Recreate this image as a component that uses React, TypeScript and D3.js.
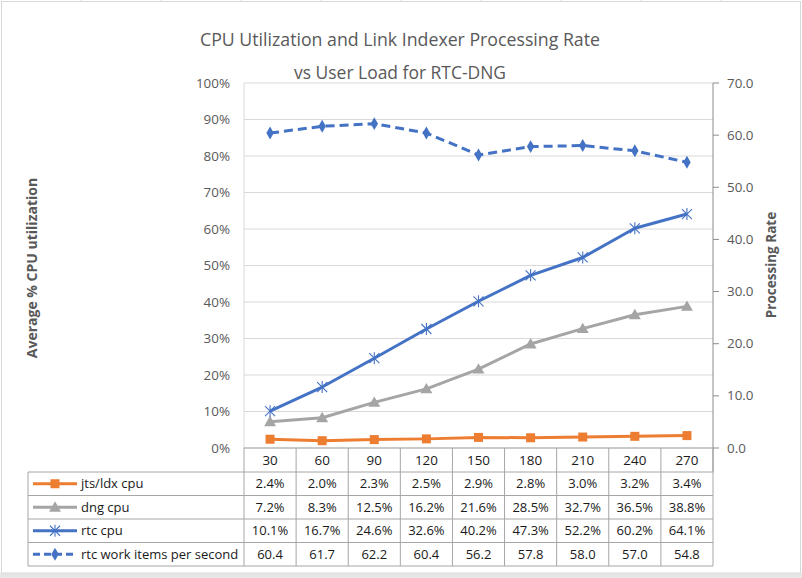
import React from "react";
import * as d3 from "d3";

const categories = [30, 60, 90, 120, 150, 180, 210, 240, 270];
const jtsCpu = [2.4, 2.0, 2.3, 2.5, 2.9, 2.8, 3.0, 3.2, 3.4];
const dngCpu = [7.2, 8.3, 12.5, 16.2, 21.6, 28.5, 32.7, 36.5, 38.8];
const rtcCpu = [10.1, 16.7, 24.6, 32.6, 40.2, 47.3, 52.2, 60.2, 64.1];
const rtcRate = [60.4, 61.7, 62.2, 60.4, 56.2, 57.8, 58.0, 57.0, 54.8];
const leftTicks = [0, 10, 20, 30, 40, 50, 60, 70, 80, 90, 100];
const rightTicks = [0, 10, 20, 30, 40, 50, 60, 70];
const titleLines = ["CPU Utilization and Link Indexer Processing Rate", "vs User Load for RTC-DNG"];
const leftTitle = "Average % CPU utilization";
const rightTitle = "Processing Rate";

type Series = { name: string; values: number[]; axis: "L" | "R"; color: string; marker: string; dash?: string; fmt: (v: number) => string };

const series: Series[] = [
  { name: "jts/ldx cpu", values: jtsCpu, axis: "L", color: "#ED7D31", marker: "square", fmt: (v) => v.toFixed(1) + "%" },
  { name: "dng cpu", values: dngCpu, axis: "L", color: "#A5A5A5", marker: "triangle", fmt: (v) => v.toFixed(1) + "%" },
  { name: "rtc cpu", values: rtcCpu, axis: "L", color: "#4472C4", marker: "star", fmt: (v) => v.toFixed(1) + "%" },
  { name: "rtc work items per second", values: rtcRate, axis: "R", color: "#4472C4", marker: "diamond", dash: "9,5", fmt: (v) => v.toFixed(1) },
];

const W = 802, H = 578;
const PL = 244, PR = 713, PT = 83, PB = 448;
const TL = 28;
const rowLines = [472, 495.5, 519, 542.5, 566];
const titleWidths = [400, 212];

const FONT_UI = "'Open Sans', 'Segoe UI', sans-serif";

function Marker({ type, x, y, color }: { type: string; x: number; y: number; color: string }) {
  if (type === "square") return <rect x={x - 4.5} y={y - 4.5} width={9} height={9} fill={color} />;
  if (type === "triangle") return <path d={d3.symbol(d3.symbolTriangle, 62)() || ""} transform={`translate(${x},${y + 1})`} fill={color} />;
  if (type === "diamond") return <path d={d3.symbol(d3.symbolDiamond, 48)() || ""} transform={`translate(${x},${y})`} fill={color} />;
  const r = 5;
  return (
    <g stroke={color} strokeWidth={1.1}>
      <line x1={x - r} y1={y - r} x2={x + r} y2={y + r} />
      <line x1={x - r} y1={y + r} x2={x + r} y2={y - r} />
      <line x1={x} y1={y - r - 1} x2={x} y2={y + r + 1} />
    </g>
  );
}

export default function App() {
  const x = d3.scaleBand<number>().domain(categories).range([PL, PR]);
  const bw = x.bandwidth();
  const cx = (c: number) => (x(c) as number) + bw / 2;
  const yL = d3.scaleLinear().domain([0, 100]).range([PB, PT]);
  const yR = d3.scaleLinear().domain([0, 70]).range([PB, PT]);
  const line = (s: Series) =>
    d3.line<number>()
      .x((_, i) => cx(categories[i]))
      .y((v) => (s.axis === "L" ? yL(v) : yR(v)))(s.values) || "";

  const tableStroke = "#a6a6a6";

  return (
    <svg width={W} height={H} style={{ position: "absolute", left: 0, top: 0, background: "#fff" }}>
      <rect x={0} y={0} width={W} height={H} fill="#fff" />
      {[81, 161, 241, 321, 401, 481, 561, 641, 721].map((gx) => (
        <line key={gx} x1={gx} x2={gx} y1={0} y2={2} stroke="#d9d9d9" />
      ))}
      <rect x={0} y={573} width={W} height={5} fill="#e6e6e6" />
      <rect x={1.5} y={1.5} width={799} height={571.5} fill="#fff" stroke="#d9d9d9" />

      {/* title */}
      {titleLines.map((t, i) => (
        <text key={i} x={400} y={46 + i * 33} textAnchor="middle" fontFamily={FONT_UI} fontSize={17.5} fill="#595959"
          textLength={titleWidths[i]} lengthAdjust="spacingAndGlyphs">
          {t}
        </text>
      ))}

      {/* gridlines */}
      {leftTicks.map((t) => (
        <line key={t} x1={PL} x2={PR} y1={yL(t)} y2={yL(t)} stroke="#d9d9d9" strokeWidth={1} />
      ))}
      <line x1={PL} x2={PL} y1={PT} y2={PB} stroke="#d9d9d9" />

      {/* left ticks */}
      {leftTicks.map((t) => (
        <text key={t} x={230} y={yL(t) + 4.5} textAnchor="end" fontFamily={FONT_UI} fontSize={13.4} fill="#595959">
          {t}%
        </text>
      ))}
      {/* right axis */}
      <line x1={PR} x2={PR} y1={PT} y2={PB + 24} stroke="#8c8c8c" />
      {rightTicks.map((t) => (
        <g key={t}>
          <line x1={PR} x2={PR + 6} y1={yR(t)} y2={yR(t)} stroke="#8c8c8c" />
          <text x={727} y={yR(t) + 4.5} fontFamily={FONT_UI} fontSize={13.4} fill="#595959">
            {t.toFixed(1)}
          </text>
        </g>
      ))}

      {/* axis titles */}
      <text transform={`translate(37,268) rotate(-90)`} textAnchor="middle" fontFamily={FONT_UI} fontWeight="bold" fontSize={14} fill="#595959">
        {leftTitle}
      </text>
      <text transform={`translate(776,265) rotate(-90)`} textAnchor="middle" fontFamily={FONT_UI} fontWeight="bold" fontSize={13.5} fill="#595959">
        {rightTitle}
      </text>

      {/* series */}
      {series.map((s) => (
        <g key={s.name}>
          <path d={line(s)} fill="none" stroke={s.color} strokeWidth={3} strokeDasharray={s.dash} strokeLinejoin="round" />
          {s.values.map((v, i) => (
            <Marker key={i} type={s.marker} x={cx(categories[i])} y={s.axis === "L" ? yL(v) : yR(v)} color={s.color} />
          ))}
        </g>
      ))}

      {/* data table */}
      <line x1={PL} x2={PR} y1={PB} y2={PB} stroke={tableStroke} />
      {rowLines.map((ry) => (
        <line key={ry} x1={TL} x2={PR} y1={ry} y2={ry} stroke={tableStroke} />
      ))}
      <line x1={TL} x2={TL} y1={rowLines[0]} y2={rowLines[4]} stroke={tableStroke} />
      {categories.map((c) => (
        <line key={c} x1={x(c) as number} x2={x(c) as number} y1={PB} y2={rowLines[4]} stroke={tableStroke} />
      ))}
      <line x1={PR} x2={PR} y1={PB} y2={rowLines[4]} stroke={tableStroke} />
      {categories.map((c) => (
        <text key={c} x={cx(c)} y={465} textAnchor="middle" fontFamily={FONT_UI} fontSize={13.4} fill="#1a1a1a">
          {c}
        </text>
      ))}
      {series.map((s, r) => {
        const my = (rowLines[r] + rowLines[r + 1]) / 2;
        return (
          <g key={s.name}>
            <line x1={33} x2={77} y1={my} y2={my} stroke={s.color} strokeWidth={3} strokeDasharray={s.dash ? "7,4" : undefined} />
            <Marker type={s.marker} x={55} y={my} color={s.color} />
            <text x={81} y={my + 4.5} fontFamily={FONT_UI} fontSize={13} fill="#1a1a1a">
              {s.name}
            </text>
            {s.values.map((v, i) => (
              <text key={i} x={cx(categories[i])} y={my + 4.5} textAnchor="middle" fontFamily={FONT_UI} fontSize={13} fill="#1a1a1a">
                {s.fmt(v)}
              </text>
            ))}
          </g>
        );
      })}
    </svg>
  );
}
